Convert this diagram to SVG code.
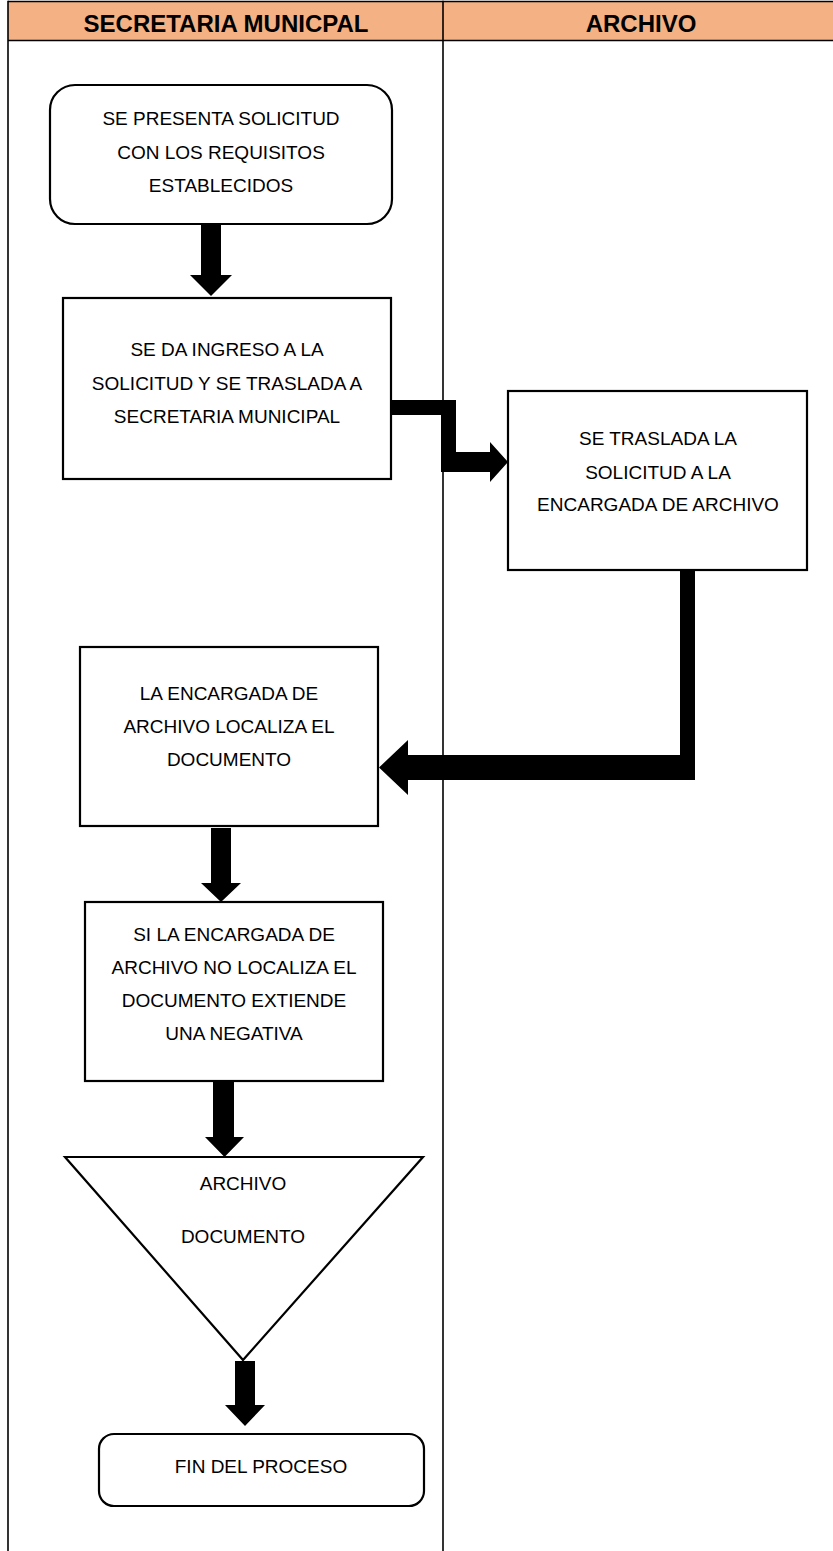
<svg xmlns="http://www.w3.org/2000/svg" width="833" height="1551" viewBox="0 0 833 1551">
<style>
.lane{stroke:#000;stroke-width:1.6;fill:none}
.box{fill:#fff;stroke:#000;stroke-width:2.2}
.t{font-family:"Liberation Sans",Arial,sans-serif;font-size:19px;fill:#000;text-anchor:middle}
.h{font-family:"Liberation Sans",Arial,sans-serif;font-size:24px;font-weight:bold;fill:#000;text-anchor:middle}
.arr{fill:#000;stroke:none}
</style>
<rect width="833" height="1551" fill="#fff"/>
<g id="header">
<rect x="8" y="1.5" width="825" height="39" fill="#F4B183"/>
<line class="lane" x1="8" y1="1.5" x2="833" y2="1.5"/>
<line class="lane" x1="8" y1="40.5" x2="833" y2="40.5"/>
<text class="h" x="226" y="32">SECRETARIA MUNICPAL</text>
<text class="h" x="641" y="32">ARCHIVO</text>
</g>
<g id="lanes">
<line class="lane" x1="8" y1="0.7" x2="8" y2="1551"/>
<line class="lane" x1="443" y1="0.7" x2="443" y2="1551"/>
</g>
<g id="connectors">
<polygon class="arr" points="201,224 221,224 221,275 232,275 211,296 190,275 201,275"/>
<polygon class="arr" points="392,400 456,400 456,452 490,452 490,442 508,462 490,482 490,472 441,472 441,415 392,415"/>
<polygon class="arr" points="680,571 695,571 695,780 408,780 408,795 379,767.5 408,740 408,755 680,755"/>
<polygon class="arr" points="211,828 231,828 231,883 241,883 221,902 201,883 211,883"/>
<polygon class="arr" points="213,1082 234,1082 234,1137 244,1137 224.5,1157 205,1137 213,1137"/>
<polygon class="arr" points="235,1361 255,1361 255,1405 265,1405 245,1426 225,1405 235,1405"/>
</g>
<g id="n1">
<rect class="box" x="50" y="85" width="342" height="139" rx="25"/>
<text class="t" x="221" y="125">SE PRESENTA SOLICITUD</text>
<text class="t" x="221" y="159">CON LOS REQUISITOS</text>
<text class="t" x="221" y="192">ESTABLECIDOS</text>
</g>
<g id="n2">
<rect class="box" x="63" y="298" width="328" height="181"/>
<text class="t" x="227" y="356">SE DA INGRESO A LA</text>
<text class="t" x="227" y="390">SOLICITUD Y SE TRASLADA A</text>
<text class="t" x="227" y="423">SECRETARIA MUNICIPAL</text>
</g>
<g id="n3">
<rect class="box" x="508" y="391" width="299" height="179"/>
<text class="t" x="658" y="445">SE TRASLADA LA</text>
<text class="t" x="658" y="479">SOLICITUD A LA</text>
<text class="t" x="658" y="511">ENCARGADA DE ARCHIVO</text>
</g>
<g id="n4">
<rect class="box" x="80" y="647" width="298" height="179"/>
<text class="t" x="229" y="700">LA ENCARGADA DE</text>
<text class="t" x="229" y="733">ARCHIVO LOCALIZA EL</text>
<text class="t" x="229" y="766">DOCUMENTO</text>
</g>
<g id="n5">
<rect class="box" x="85" y="902" width="298" height="179"/>
<text class="t" x="234" y="941">SI LA ENCARGADA DE</text>
<text class="t" x="234" y="974">ARCHIVO NO LOCALIZA EL</text>
<text class="t" x="234" y="1007">DOCUMENTO EXTIENDE</text>
<text class="t" x="234" y="1040">UNA NEGATIVA</text>
</g>
<g id="n6">
<polygon class="box" points="65,1157 423,1157 243,1360"/>
<text class="t" x="243" y="1190">ARCHIVO</text>
<text class="t" x="243" y="1243">DOCUMENTO</text>
</g>
<g id="n7">
<rect class="box" x="99" y="1434" width="325" height="72" rx="15"/>
<text class="t" x="261" y="1473">FIN DEL PROCESO</text>
</g>
</svg>
